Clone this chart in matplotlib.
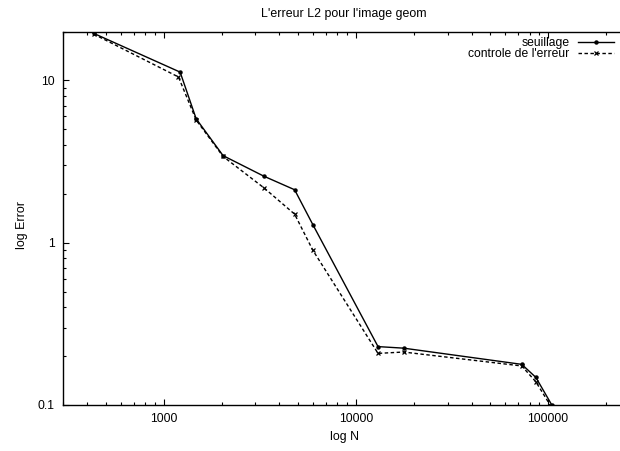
import matplotlib
matplotlib.use('Agg')
import matplotlib.pyplot as plt
from matplotlib.ticker import LogLocator, NullFormatter, FixedLocator, FixedFormatter

plt.rcParams['font.family'] = ['Liberation Sans', 'DejaVu Sans']

# values (log-log)
n_seuil = [432, 1217, 1475, 2036, 3318, 4797, 5972, 13030, 17700, 72900, 86300, 104500]
err_seuil = [19.5, 11.25, 5.8, 3.44, 2.57, 2.12, 1.29, 0.229, 0.224, 0.178, 0.148, 0.1]

n_ctrl = [432, 1193, 1475, 2036, 3318, 4797, 5972, 13030, 17700, 72900, 86300, 103500]
err_ctrl = [19.3, 10.5, 5.7, 3.4, 2.18, 1.50, 0.897, 0.208, 0.212, 0.174, 0.139, 0.098]

x_ticks = [1000, 10000, 100000]
x_labels = ['1000', '10000', '100000']
y_ticks = [0.1, 1, 10]
y_labels = ['0.1', '1', '10']

fig = plt.figure(figsize=(6.2, 4.51), dpi=100)
# axes runs past the right edge: the reference is cropped there
ax = fig.add_axes([0.102, 0.102, 0.930, 0.828])

ax.plot(n_seuil, err_seuil, color='black', lw=1.0, marker='o', ms=2.2,
        label='seuillage')
ax.plot(n_ctrl, err_ctrl, color='black', lw=1.0, dashes=[2.5, 1.8], marker='x',
        ms=2.2, mew=0.9, label="controle de l'erreur")

ax.set_xscale('log')
ax.set_yscale('log')
ax.set_xlim(300, 300000)
ax.set_ylim(0.1, 20)

ax.xaxis.set_major_locator(FixedLocator(x_ticks))
ax.xaxis.set_major_formatter(FixedFormatter(x_labels))
ax.yaxis.set_major_locator(FixedLocator(y_ticks))
ax.yaxis.set_major_formatter(FixedFormatter(y_labels))
ax.xaxis.set_minor_locator(LogLocator(base=10, subs=range(2, 10)))
ax.yaxis.set_minor_locator(LogLocator(base=10, subs=range(2, 10)))
ax.xaxis.set_minor_formatter(NullFormatter())
ax.yaxis.set_minor_formatter(NullFormatter())

ax.tick_params(which='both', direction='in', top=True, right=True,
               labelsize=8.7, width=0.8, pad=6)
ax.tick_params(which='major', length=4.5)
ax.tick_params(which='minor', length=2.5)
for sp in ax.spines.values():
    sp.set_linewidth(1.0)

fig.text(344 / 620, 1 - 14 / 451, "L'erreur L2 pour l'image geom",
         ha='center', va='center', fontsize=8.9)
fig.text(344 / 620, 1 - 437 / 451, 'log N', ha='center', va='center',
         fontsize=8.9)
fig.text(22 / 620, 1 - 225 / 451, 'log Error', ha='center', va='center',
         rotation=90, fontsize=8.9)

fig.legend(loc='upper right', bbox_to_anchor=(614 / 620, 1 - 37 / 451),
           frameon=False, markerfirst=False, handlelength=3.0,
           borderpad=0, borderaxespad=0, labelspacing=-0.1,
           handletextpad=0.7, fontsize=8.7)

fig.savefig('out.png', dpi=100)
